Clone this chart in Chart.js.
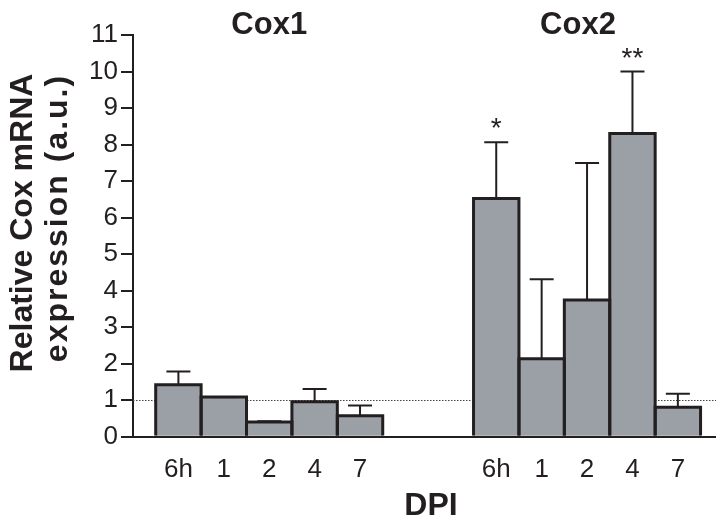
<!DOCTYPE html>
<html>
<head>
<meta charset="utf-8">
<script src="https://cdn.jsdelivr.net/npm/chart.js@4.4.1/dist/chart.umd.min.js"></script>
<style>
  html, body { margin: 0; padding: 0; background: #ffffff; }
  canvas { display: block; }
</style>
</head>
<body>
<canvas id="c" width="716" height="518"></canvas>
<script>
// ---- data ----
const categories = ['6h', '1', '2', '4', '7'];
const groupNames = ['Cox1', 'Cox2'];
const cox1Means = [1.42, 1.08, 0.40, 0.95, 0.57];
const cox1Upper = [1.78, 1.08, 0.42, 1.30, 0.85];
const cox2Means = [6.52, 2.13, 3.74, 8.30, 0.80];
const cox2Upper = [8.06, 4.31, 7.49, 10.00, 1.17];
const cox2Marks = ['*', '', '', '**', ''];
const referenceLevel = 1;
const yTickValues = [0, 1, 2, 3, 4, 5, 6, 7, 8, 9, 10, 11];
const yTitleLines = ['Relative Cox mRNA', 'expression (a.u.)'];
const xTitle = 'DPI';

// ---- layout of the slots on the x axis ----
const firstSlot = 1;      // slot of the first bar
const emptySlots = 2;     // empty slots between the two groups
const group1Pos = categories.map((c, i) => firstSlot + i);
const group2Pos = categories.map((c, i) => firstSlot + categories.length + emptySlots + i);

const points = [];
group1Pos.forEach((p, i) => points.push({ x: p, y: cox1Means[i], up: cox1Upper[i], mark: '', label: categories[i] }));
group2Pos.forEach((p, i) => points.push({ x: p, y: cox2Means[i], up: cox2Upper[i], mark: cox2Marks[i], label: categories[i] }));

const tickLabelMap = {};
points.forEach(p => { tickLabelMap[p.x] = p.label; });

const INK = '#231f20';
const FONT = "'Liberation Sans', Arial, Helvetica, sans-serif";

const decorations = {
  id: 'decorations',
  beforeDatasetsDraw(chart) {
    const { ctx, chartArea, scales: { y } } = chart;
    const yy = Math.round(y.getPixelForValue(referenceLevel)) + 0.5;
    ctx.save();
    ctx.strokeStyle = '#444444';
    ctx.lineWidth = 1;
    ctx.setLineDash([1.5, 1.5]);
    ctx.beginPath();
    ctx.moveTo(chartArea.left, yy);
    ctx.lineTo(chartArea.right, yy);
    ctx.stroke();
    ctx.restore();
  },
  afterDatasetsDraw(chart) {
    const { ctx, scales: { y } } = chart;
    const meta = chart.getDatasetMeta(0);
    ctx.save();
    // bar outlines (shared edges)
    ctx.strokeStyle = INK;
    ctx.lineWidth = 3;
    ctx.lineJoin = 'miter';
    meta.data.forEach(bar => {
      const { x, y: top, base, width } = bar.getProps(['x', 'y', 'base', 'width'], true);
      ctx.beginPath();
      ctx.moveTo(x - width / 2, base);
      ctx.lineTo(x - width / 2, top);
      ctx.lineTo(x + width / 2, top);
      ctx.lineTo(x + width / 2, base);
      ctx.stroke();
    });
    // upper error bars
    ctx.lineWidth = 2;
    const capHalf = 12;
    meta.data.forEach((bar, i) => {
      const p = points[i];
      const { x, y: top } = bar.getProps(['x', 'y'], true);
      const yUp = y.getPixelForValue(p.up);
      ctx.beginPath();
      ctx.moveTo(x, top);
      ctx.lineTo(x, yUp);
      ctx.moveTo(x - capHalf, yUp);
      ctx.lineTo(x + capHalf, yUp);
      ctx.stroke();
      if (p.mark) {
        ctx.fillStyle = INK;
        ctx.font = '28px ' + FONT;
        ctx.textAlign = 'center';
        ctx.textBaseline = 'alphabetic';
        ctx.fillText(p.mark, x, yUp - 5);
      }
    });
    ctx.restore();
  },
  afterDraw(chart) {
    const { ctx, scales: { x } } = chart;
    ctx.save();
    ctx.fillStyle = INK;
    // group titles
    ctx.font = 'bold 31px ' + FONT;
    ctx.textAlign = 'center';
    ctx.textBaseline = 'alphabetic';
    const g1 = (group1Pos[0] + group1Pos[group1Pos.length - 1]) / 2;
    const g2 = (group2Pos[0] + group2Pos[group2Pos.length - 1]) / 2 - 0.2;
    ctx.fillText(groupNames[0], x.getPixelForValue(g1), 34);
    ctx.fillText(groupNames[1], x.getPixelForValue(g2), 34);
    // x title
    ctx.font = 'bold 32px ' + FONT;
    ctx.fillText(xTitle, 431, 515);
    // y title (two rotated lines)
    ctx.font = 'bold 32px ' + FONT;
    ctx.save();
    ctx.translate(32, 223);
    ctx.rotate(-Math.PI / 2);
    ctx.fillText(yTitleLines[0], 0, 0);
    ctx.restore();
    ctx.save();
    ctx.translate(67, 218);
    ctx.rotate(-Math.PI / 2);
    ctx.letterSpacing = '2px';
    ctx.fillText(yTitleLines[1], 0, 0);
    ctx.restore();
    ctx.restore();
  }
};

new Chart(document.getElementById('c'), {
  type: 'bar',
  data: {
    datasets: [{
      data: points,
      backgroundColor: '#9b9fa6',
      borderWidth: 0,
      barPercentage: 1,
      categoryPercentage: 1
    }]
  },
  options: {
    responsive: false,
    animation: false,
    events: [],
    layout: { padding: { top: 35, right: 0, bottom: 0, left: 0 } },
    plugins: { legend: { display: false }, tooltip: { enabled: false }, title: { display: false } },
    scales: {
      x: {
        type: 'linear',
        offset: false,
        min: 0,
        max: 12.84,
        grid: { display: false },
        border: { display: true, color: INK, width: 2 },
        afterBuildTicks(scale) {
          scale.ticks = points.map(p => ({ value: p.x }));
        },
        afterFit(scale) { scale.height = 81.5; },
        ticks: {
          autoSkip: false,
          maxRotation: 0,
          padding: 10,
          color: INK,
          font: { family: FONT, size: 26 },
          callback: (v) => tickLabelMap[v] !== undefined ? tickLabelMap[v] : ''
        }
      },
      y: {
        min: 0,
        max: 11,
        afterBuildTicks(scale) {
          scale.ticks = yTickValues.map(v => ({ value: v }));
        },
        afterFit(scale) { scale.width = 133; },
        grid: { display: true, drawOnChartArea: false, drawTicks: true, tickLength: 12, color: INK, lineWidth: 2 },
        border: { display: true, color: INK, width: 2 },
        ticks: {
          padding: 3,
          color: INK,
          font: { family: FONT, size: 26 },
          callback: (v) => String(v)
        }
      }
    }
  },
  plugins: [decorations]
});
</script>
</body>
</html>
